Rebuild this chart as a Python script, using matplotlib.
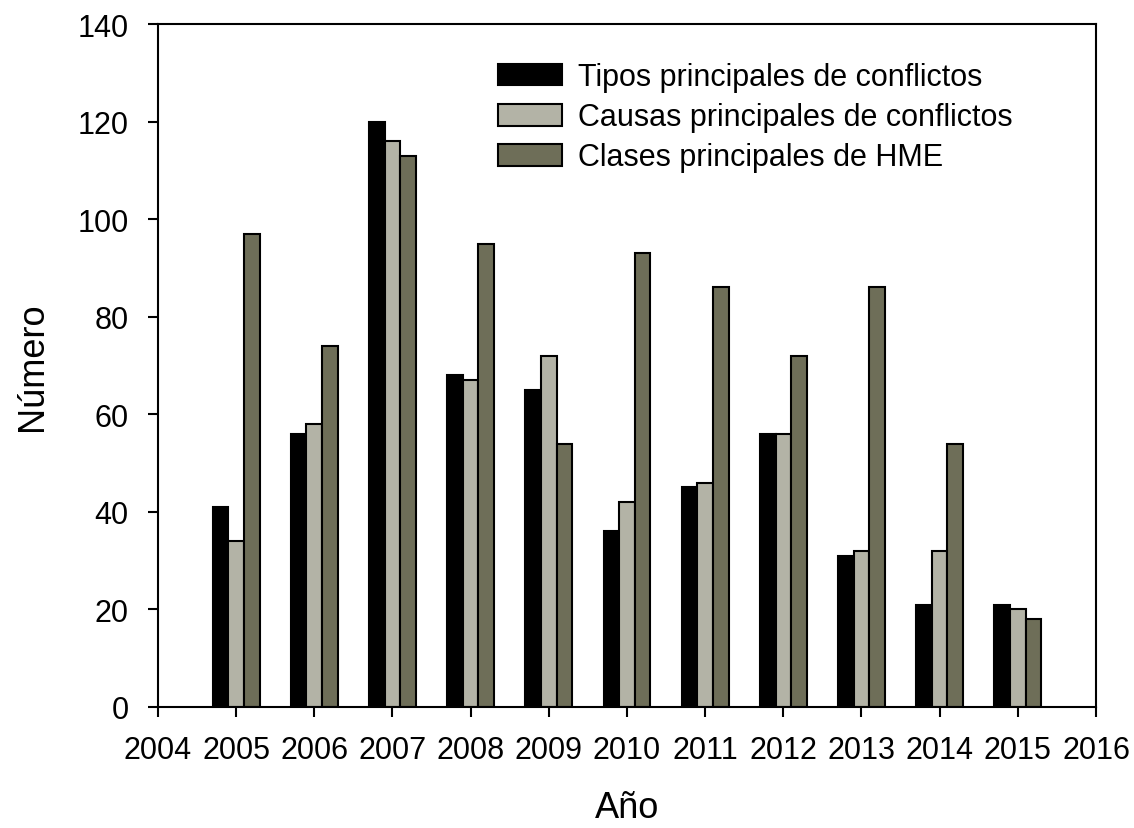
import matplotlib
matplotlib.use('Agg')
import matplotlib.pyplot as plt
import numpy as np

plt.rcParams['font.family'] = ['Liberation Sans', 'DejaVu Sans']

years = [2005, 2006, 2007, 2008, 2009, 2010, 2011, 2012, 2013, 2014, 2015]
tipos = [41, 56, 120, 68, 65, 36, 45, 56, 31, 21, 21]
causas = [34, 58, 116, 67, 72, 42, 46, 56, 32, 32, 20]
clases = [97, 74, 113, 95, 54, 93, 86, 72, 86, 54, 18]

labels = ['Tipos principales de conflictos',
          'Causas principales de conflictos',
          'Clases principales de HME']
colors = ['#000000', '#b3b3a6', '#6e6e58']

fig = plt.figure(figsize=(11.34, 8.29), dpi=100)
ax = fig.add_axes([0.1393, 0.146, 0.8272, 0.8238])

x = np.array(years)
w = 0.2
for off, vals, col, lab in zip([-w, 0, w], [tipos, causas, clases], colors, labels):
    ax.bar(x + off, vals, width=w, color=col, edgecolor='black', linewidth=1.5, label=lab)

ax.set_xlim(2004, 2016)
ax.set_ylim(0, 140)
ax.set_xticks(range(2004, 2017))
ax.set_yticks(range(0, 141, 20))
ax.tick_params(axis='both', labelsize=22, length=7, width=1.5, direction='out')
ax.tick_params(axis='x', pad=13)
ax.tick_params(axis='y', pad=14)
for s in ax.spines.values():
    s.set_linewidth(1.5)

ax.set_xlabel('Año', fontsize=26, labelpad=18)
ax.set_ylabel('Número', fontsize=26, labelpad=20)

ax.legend(loc='upper left', bbox_to_anchor=(0.3625, 0.944), frameon=False, fontsize=22,
          borderaxespad=0, borderpad=0,
          handlelength=2.1, handleheight=0.72, handletextpad=0.52, labelspacing=0.33)

fig.savefig('out.png', dpi=100)
